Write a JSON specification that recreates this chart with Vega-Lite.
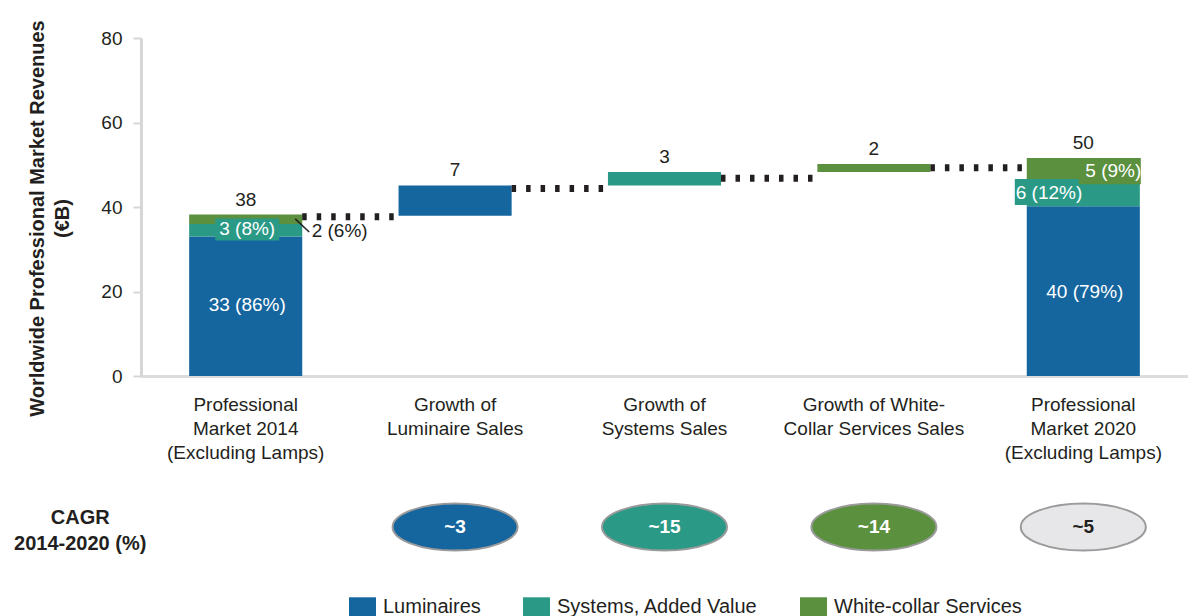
{
  "$schema": "https://vega.github.io/schema/vega-lite/v6.json",
  "padding": {"left": 14, "top": 19, "right": 0, "bottom": 0},
  "background": "white",
  "config": {
    "font": "Liberation Sans",
    "view": {"stroke": null},
    "concat": {"spacing": 35},
    "text": {"font": "Liberation Sans"}
  },
  "datasets": {
    "bars": [
      {"cat": "Professional|Market 2014|(Excluding Lamps)", "series": "Luminaires", "y0": 0, "y1": 33},
      {"cat": "Professional|Market 2014|(Excluding Lamps)", "series": "Systems, Added Value", "y0": 33, "y1": 36},
      {"cat": "Professional|Market 2014|(Excluding Lamps)", "series": "White-collar Services", "y0": 36, "y1": 38.2},
      {"cat": "Growth of|Luminaire Sales", "series": "Luminaires", "y0": 37.9, "y1": 45.1},
      {"cat": "Growth of|Systems Sales", "series": "Systems, Added Value", "y0": 45.1, "y1": 48.3},
      {"cat": "Growth of White-|Collar Services Sales", "series": "White-collar Services", "y0": 48.3, "y1": 50.2},
      {"cat": "Professional|Market 2020|(Excluding Lamps)", "series": "Luminaires", "y0": 0, "y1": 40.2},
      {"cat": "Professional|Market 2020|(Excluding Lamps)", "series": "Systems, Added Value", "y0": 40.2, "y1": 45.8},
      {"cat": "Professional|Market 2020|(Excluding Lamps)", "series": "White-collar Services", "y0": 45.8, "y1": 51.6}
    ],
    "boxes": [
      {"cat": "Professional|Market 2014|(Excluding Lamps)", "series": "Systems, Added Value", "label": "3 (8%)", "y0": 32.1, "y1": 37.3},
      {"cat": "Professional|Market 2020|(Excluding Lamps)", "series": "Systems, Added Value", "label": "6 (12%)", "y0": 40.5, "y1": 46.6},
      {"cat": "Professional|Market 2020|(Excluding Lamps)", "series": "White-collar Services", "label": "5 (9%)", "y0": 45.4, "y1": 51.6}
    ],
    "totals": [
      {"cat": "Professional|Market 2014|(Excluding Lamps)", "y": 38.2, "label": "38"},
      {"cat": "Growth of|Luminaire Sales", "y": 45.1, "label": "7"},
      {"cat": "Growth of|Systems Sales", "y": 48.3, "label": "3"},
      {"cat": "Growth of White-|Collar Services Sales", "y": 50.2, "label": "2"},
      {"cat": "Professional|Market 2020|(Excluding Lamps)", "y": 51.6, "label": "50"}
    ],
    "seglabels": [
      {"cat": "Professional|Market 2014|(Excluding Lamps)", "y": 16.8, "label": "33 (86%)"},
      {"cat": "Professional|Market 2014|(Excluding Lamps)", "y": 34.7, "label": "3 (8%)"},
      {"cat": "Professional|Market 2020|(Excluding Lamps)", "y": 20, "label": "40 (79%)"},
      {"cat": "Professional|Market 2020|(Excluding Lamps)", "y": 43.4, "label": "6 (12%)"},
      {"cat": "Professional|Market 2020|(Excluding Lamps)", "y": 48.6, "label": "5 (9%)"},
      {"cat": "Professional|Market 2014|(Excluding Lamps)", "y": 34.3, "label": "2 (6%)"}
    ],
    "connectors": [
      {"from": "Professional|Market 2014|(Excluding Lamps)", "to": "Growth of|Luminaire Sales", "y": 37.7},
      {"from": "Growth of|Luminaire Sales", "to": "Growth of|Systems Sales", "y": 44.4},
      {"from": "Growth of|Systems Sales", "to": "Growth of White-|Collar Services Sales", "y": 46.8},
      {"from": "Growth of White-|Collar Services Sales", "to": "Professional|Market 2020|(Excluding Lamps)", "y": 49.3}
    ],
    "leader": [
      {"cat": "Professional|Market 2014|(Excluding Lamps)", "y0": 37.2, "y1": 34.1}
    ],
    "cagr": [
      {"cat": "Growth of|Luminaire Sales", "series": "Luminaires", "label": "~3"},
      {"cat": "Growth of|Systems Sales", "series": "Systems, Added Value", "label": "~15"},
      {"cat": "Growth of White-|Collar Services Sales", "series": "White-collar Services", "label": "~14"},
      {"cat": "Professional|Market 2020|(Excluding Lamps)", "series": "Total", "label": "~5"}
    ],
    "cagrHeader": [
      {"cat": "Professional|Market 2014|(Excluding Lamps)", "label": "CAGR\n2014-2020 (%)"}
    ]
  },
  "resolve": {"scale": {"x": "shared", "color": "shared", "y": "independent"}},
  "vconcat": [
    {
      "width": 1047,
      "height": 338,
      "layer": [
        {
          "data": {"name": "bars"},
          "mark": {"type": "bar"},
          "encoding": {
            "x": {
              "field": "cat", "type": "nominal", "sort": null,
              "scale": {
                "domain": ["Professional|Market 2014|(Excluding Lamps)", "Growth of|Luminaire Sales", "Growth of|Systems Sales", "Growth of White-|Collar Services Sales", "Professional|Market 2020|(Excluding Lamps)"],
                "paddingInner": 0.46, "paddingOuter": 0.23
              },
              "axis": {
                "title": null, "labelAngle": 0, "labelFontSize": 19, "labelColor": "#231f20",
                "labelLineHeight": 24, "labelPadding": 19, "ticks": false, "tickSize": 0,
                "domainColor": "#dcdcdc", "domainWidth": 3, "labelExpr": "split(datum.label, '|')",
                "labelFont": "Liberation Sans", "labelLimit": 400
              }
            },
            "y": {
              "field": "y0", "type": "quantitative",
              "scale": {"domain": [0, 80], "nice": false},
              "axis": {
                "title": ["Worldwide Professional Market Revenues", "(€B)"],
                "titleFontSize": 20, "titleFontWeight": "bold", "titleColor": "#231f20",
                "titleLineHeight": 25, "titlePadding": 28, "titleFont": "Liberation Sans",
                "titleY": 180,
                "values": [0, 20, 40, 60, 80], "grid": false,
                "labelFontSize": 19, "labelColor": "#231f20", "labelPadding": 11, "labelFont": "Liberation Sans",
                "tickColor": "#d6d6d6", "tickSize": 8, "tickWidth": 2,
                "domainColor": "#d6d6d6", "domainWidth": 3
              }
            },
            "y2": {"field": "y1"},
            "color": {
              "field": "series", "type": "nominal",
              "scale": {
                "domain": ["Luminaires", "Systems, Added Value", "White-collar Services", "Total"],
                "range": ["#15659f", "#2a9a87", "#5a903e", "#e7e7e9"]
              },
              "legend": {
                "title": null, "orient": "none", "direction": "horizontal",
                "legendX": 208, "legendY": 555,
                "values": ["Luminaires", "Systems, Added Value", "White-collar Services"],
                "symbolType": "M-1,-0.7H1V0.7H-1Z", "symbolSize": 729, "symbolStrokeWidth": 0,
                "symbolOpacity": 1,
                "labelFontSize": 20, "labelColor": "#231f20", "labelFont": "Liberation Sans",
                "labelOffset": 7, "columnPadding": 42, "labelLimit": 400
              }
            }
          }
        },
        {
          "data": {"name": "connectors"},
          "mark": {"type": "rule", "strokeDash": [4.5, 10], "strokeWidth": 7, "color": "#231f20", "strokeCap": "butt", "xOffset": 56.5, "x2Offset": -57},
          "encoding": {
            "x": {"field": "from", "type": "nominal"},
            "x2": {"field": "to"},
            "y": {"field": "y", "type": "quantitative"}
          }
        },
        {
          "data": {"name": "boxes"},
          "transform": [{"filter": "datum.label === '3 (8%)'"}],
          "mark": {"type": "bar", "width": 64, "xOffset": 1.5},
          "encoding": {
            "x": {"field": "cat", "type": "nominal"},
            "y": {"field": "y0", "type": "quantitative"},
            "y2": {"field": "y1"},
            "color": {"field": "series", "type": "nominal"}
          }
        },
        {
          "data": {"name": "boxes"},
          "transform": [{"filter": "datum.label === '6 (12%)'"}],
          "mark": {"type": "bar", "width": 70, "xOffset": -33.5},
          "encoding": {
            "x": {"field": "cat", "type": "nominal"},
            "y": {"field": "y0", "type": "quantitative"},
            "y2": {"field": "y1"},
            "color": {"field": "series", "type": "nominal"}
          }
        },
        {
          "data": {"name": "boxes"},
          "transform": [{"filter": "datum.label === '5 (9%)'"}],
          "mark": {"type": "bar", "width": 62, "xOffset": 26.5},
          "encoding": {
            "x": {"field": "cat", "type": "nominal"},
            "y": {"field": "y0", "type": "quantitative"},
            "y2": {"field": "y1"},
            "color": {"field": "series", "type": "nominal"}
          }
        },
        {
          "data": {"name": "leader"},
          "mark": {"type": "rule", "color": "#231f20", "strokeWidth": 1.5, "xOffset": 49.5, "x2Offset": 63.5},
          "encoding": {
            "x": {"field": "cat", "type": "nominal"},
            "x2": {"field": "cat"},
            "y": {"field": "y0", "type": "quantitative"},
            "y2": {"field": "y1"}
          }
        },
        {
          "data": {"name": "totals"},
          "mark": {"type": "text", "fontSize": 19, "color": "#231f20", "baseline": "alphabetic", "dy": -9},
          "encoding": {
            "x": {"field": "cat", "type": "nominal"},
            "y": {"field": "y", "type": "quantitative"},
            "text": {"field": "label"}
          }
        },
        {
          "data": {"name": "seglabels"},
          "transform": [{"filter": "datum.label === '33 (86%)' || datum.label === '3 (8%)' || datum.label === '40 (79%)'"}],
          "mark": {"type": "text", "fontSize": 19, "color": "white", "baseline": "middle", "dx": 1.5},
          "encoding": {
            "x": {"field": "cat", "type": "nominal"},
            "y": {"field": "y", "type": "quantitative"},
            "text": {"field": "label"}
          }
        },
        {
          "data": {"name": "seglabels"},
          "transform": [{"filter": "datum.label === '6 (12%)'"}],
          "mark": {"type": "text", "fontSize": 19, "color": "white", "baseline": "middle", "align": "right", "dx": -1},
          "encoding": {
            "x": {"field": "cat", "type": "nominal"},
            "y": {"field": "y", "type": "quantitative"},
            "text": {"field": "label"}
          }
        },
        {
          "data": {"name": "seglabels"},
          "transform": [{"filter": "datum.label === '5 (9%)'"}],
          "mark": {"type": "text", "fontSize": 19, "color": "white", "baseline": "middle", "align": "left", "dx": 2},
          "encoding": {
            "x": {"field": "cat", "type": "nominal"},
            "y": {"field": "y", "type": "quantitative"},
            "text": {"field": "label"}
          }
        },
        {
          "data": {"name": "seglabels"},
          "transform": [{"filter": "datum.label === '2 (6%)'"}],
          "mark": {"type": "text", "fontSize": 19, "color": "#231f20", "baseline": "middle", "align": "left", "dx": 66},
          "encoding": {
            "x": {"field": "cat", "type": "nominal"},
            "y": {"field": "y", "type": "quantitative"},
            "text": {"field": "label"}
          }
        }
      ]
    },
    {
      "width": 1047,
      "height": 60,
      "layer": [
        {
          "data": {"name": "cagr"},
          "mark": {"type": "point", "shape": "M-1,0A1,0.376,0,1,1,1,0A1,0.376,0,1,1,-1,0Z", "size": 15625, "filled": true, "opacity": 1, "stroke": "#9b9b9b", "strokeWidth": 2},
          "encoding": {
            "x": {"field": "cat", "type": "nominal", "axis": null},
            "color": {"field": "series", "type": "nominal"}
          }
        },
        {
          "data": {"name": "cagr"},
          "mark": {"type": "text", "fontSize": 19, "fontWeight": "bold", "baseline": "middle"},
          "encoding": {
            "x": {"field": "cat", "type": "nominal", "axis": null},
            "text": {"field": "label"},
            "color": {"condition": {"test": "datum.series === 'Total'", "value": "#231f20"}, "value": "white"}
          }
        },
        {
          "data": {"name": "cagrHeader"},
          "mark": {"type": "text", "fontSize": 20, "fontWeight": "bold", "baseline": "middle", "lineBreak": "\n", "lineHeight": 26, "dx": -165.5, "dy": -9.5, "color": "#231f20"},
          "encoding": {
            "x": {"field": "cat", "type": "nominal", "axis": null},
            "text": {"field": "label"}
          }
        }
      ]
    }
  ]
}
